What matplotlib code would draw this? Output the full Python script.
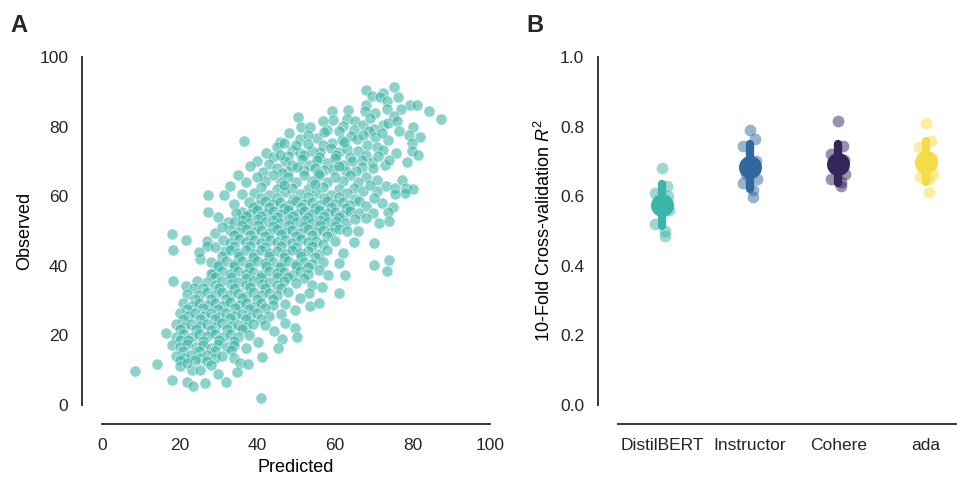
import numpy as np
import matplotlib
matplotlib.use("Agg")
import matplotlib.pyplot as plt

plt.rcParams['font.family'] = ['Liberation Sans', 'DejaVu Sans']
plt.rcParams['mathtext.fontset'] = 'custom'
plt.rcParams['mathtext.rm'] = 'Liberation Sans'
plt.rcParams['mathtext.it'] = 'Liberation Sans:italic'

# panel A: predicted vs observed (approximate)
scatter_points = [
    (68.0, 90.5), (75.3, 91.3), (72.4, 89.7), (69.5, 88.8), (71.6, 88.4), (76.4, 88.4), (73.5, 87.5),
    (68.0, 86.2), (79.4, 86.2), (81.1, 86.2), (73.4, 85.2), (84.3, 84.5), (77.0, 85.0),
    (67.8, 84.6), (59.2, 84.6), (63.5, 84.8), (70.4, 83.8), (50.6, 82.8), (87.4, 82.1), (75.2, 83.1),
    (59.6, 81.9), (63.1, 82.1), (65.2, 81.5), (56.9, 81.5), (51.2, 80.0), (53.6, 80.0), (67.2, 80.5),
    (72.5, 80.5), (73.7, 81.1), (80.2, 80.0), (62.0, 80.2), (76.1, 81.6), (69.0, 82.4),
    (58.0, 79.1), (61.0, 78.8), (70.0, 79.3),
    (82.0, 76.9), (76.6, 78.6), (73.8, 76.1), (68.9, 78.6), (70.4, 76.9), (65.0, 79.0), (55.3, 76.6),
    (59.2, 75.2), (61.8, 76.1), (64.1, 77.2), (65.6, 76.3), (51.0, 76.3), (45.9, 75.7), (36.6, 76.0),
    (48.2, 78.1), (57.1, 78.4), (53.0, 77.5), (67.3, 77.6), (72.1, 78.3), (79.0, 77.6),
    (68.4, 74.7), (70.8, 74.2), (72.5, 73.3), (75.9, 72.3), (79.8, 75.2), (79.8, 72.9), (57.0, 74.7),
    (59.1, 73.9), (48.9, 73.3), (51.1, 72.4), (54.0, 73.1), (56.2, 72.6), (61.0, 72.7), (63.2, 73.6),
    (66.0, 73.0), (45.1, 74.1), (42.2, 72.5), (44.0, 71.4), (62.3, 75.5), (53.2, 75.1), (47.0, 75.4),
    (50.0, 74.6),
    (48.0, 71.5), (52.1, 71.7), (56.0, 71.3), (60.2, 71.8), (64.0, 71.4), (68.1, 71.9),
    (81.5, 71.8), (78.5, 69.9), (72.9, 69.0), (69.5, 69.9), (69.9, 68.0), (66.9, 70.4), (64.5, 70.0),
    (67.0, 68.5), (47.1, 70.0), (49.0, 69.1), (51.5, 70.6), (53.5, 69.0), (55.5, 70.5), (58.0, 69.6),
    (60.1, 71.0), (62.0, 69.1), (40.0, 70.2), (38.1, 68.6), (43.0, 69.2), (45.2, 68.1), (57.1, 67.5),
    (59.5, 67.8), (63.0, 67.2), (52.1, 67.6), (48.0, 67.1), (71.1, 71.6), (74.0, 70.4), (50.2, 68.3),
    (54.8, 68.2), (61.2, 68.6), (46.0, 71.8),
    (46.5, 66.8), (55.6, 66.8), (65.5, 67.2), (41.5, 67.0),
    (70.8, 64.7), (73.2, 62.9), (75.5, 62.3), (77.2, 64.7), (78.4, 62.3), (80.2, 62.0), (78.1, 60.8),
    (75.5, 60.6), (68.0, 65.5), (66.1, 64.1), (64.0, 66.0), (62.2, 64.5), (60.0, 65.6), (58.1, 64.0),
    (56.0, 66.1), (54.2, 64.4), (52.0, 66.0), (50.1, 64.0), (48.0, 65.5), (46.2, 64.1), (44.0, 66.0),
    (42.1, 64.5), (40.0, 65.6), (37.2, 64.0), (35.0, 66.1), (33.1, 63.0), (65.0, 62.5), (61.1, 62.1),
    (57.0, 62.6), (53.1, 62.0), (49.0, 62.5), (45.1, 62.1), (41.0, 62.6), (67.2, 61.4), (71.0, 61.5),
    (63.1, 61.0), (59.0, 60.4), (55.1, 61.0), (51.0, 60.5), (47.1, 61.1), (43.0, 60.4), (39.1, 61.0),
    (36.2, 60.5), (69.0, 63.3), (55.0, 63.6), (47.0, 63.3),
    (27.4, 60.3), (31.5, 60.3), (34.1, 57.9), (27.4, 55.4), (30.0, 54.1), (32.6, 52.7), (29.1, 49.5),
    (25.3, 42.0), (28.7, 37.8), (24.4, 35.7), (31.7, 44.3),
    (41.0, 59.5), (45.0, 59.6), (49.1, 59.3), (53.0, 59.7), (57.2, 59.4), (61.0, 59.8), (65.1, 59.3),
    (38.0, 58.3), (40.1, 57.6), (42.0, 58.6), (44.1, 57.8), (46.0, 58.4), (48.2, 57.5), (50.0, 58.7),
    (52.1, 57.7), (54.0, 58.4), (56.2, 57.6), (58.0, 58.6), (60.1, 57.8), (62.2, 58.3), (64.0, 57.4),
    (66.3, 58.5), (68.0, 57.2), (72.1, 58.1), (75.0, 57.0), (70.0, 59.5),
    (39.0, 56.8), (43.1, 56.9), (47.0, 56.6), (51.2, 57.0), (55.0, 56.7), (59.1, 56.9), (63.0, 56.5),
    (36.0, 55.6), (38.1, 54.9), (40.0, 56.0), (42.2, 55.1), (44.0, 55.8), (46.1, 54.8), (48.0, 55.9),
    (50.2, 55.0), (52.0, 55.7), (54.1, 54.9), (56.0, 56.0), (58.2, 55.1), (60.0, 55.6), (62.1, 54.7),
    (64.0, 55.8), (66.2, 55.3), (69.9, 55.1), (73.8, 55.5), (34.5, 55.3),
    (37.0, 54.2), (41.1, 54.3), (45.0, 54.0), (49.2, 54.4), (53.0, 54.1), (57.1, 54.3), (61.0, 54.0),
    (34.0, 52.6), (36.1, 53.3), (38.0, 52.4), (40.2, 53.4), (42.0, 52.5), (44.1, 53.2), (46.0, 52.3),
    (48.1, 53.4), (50.0, 52.6), (52.2, 53.1), (54.0, 52.4), (56.1, 53.3), (58.0, 52.5), (60.2, 53.0),
    (63.0, 52.2), (65.1, 53.5), (71.5, 52.4), (74.0, 52.9), (68.0, 53.8),
    (36.0, 51.6), (40.1, 51.7), (44.0, 51.5), (48.2, 51.8), (52.0, 51.5), (56.1, 51.7), (60.0, 51.4),
    (33.0, 50.3), (35.1, 49.6), (37.0, 50.5), (39.2, 49.7), (41.0, 50.4), (43.1, 49.5), (45.0, 50.6),
    (47.2, 49.8), (49.0, 50.3), (51.1, 49.4), (53.0, 50.5), (55.2, 49.7), (57.0, 50.2), (59.1, 49.6),
    (61.0, 50.7), (63.2, 49.9), (66.0, 50.1), (31.0, 51.2),
    (34.0, 48.8), (38.1, 48.9), (42.0, 48.6), (46.2, 49.0), (50.0, 48.7), (54.1, 48.9), (58.0, 48.6),
    (21.6, 47.4), (27.0, 47.2), (31.1, 47.5), (33.0, 46.6), (35.2, 47.6), (37.0, 46.8), (39.1, 47.3),
    (41.0, 46.5), (43.2, 47.5), (45.0, 46.7), (47.1, 47.4), (49.0, 46.5), (51.2, 47.6), (53.0, 46.8),
    (55.1, 47.2), (57.0, 46.4), (60.0, 47.1), (65.0, 46.9), (70.1, 46.6), (18.0, 49.0), (18.3, 44.6),
    (34.0, 45.6), (38.2, 45.7), (42.0, 45.5), (46.1, 45.8), (50.0, 45.5), (54.2, 45.7), (27.0, 45.6),
    (25.0, 44.0), (33.0, 44.5), (35.1, 43.6), (37.0, 44.4), (39.2, 43.5), (41.0, 44.6), (43.1, 43.7),
    (45.0, 44.3), (47.2, 43.4), (49.0, 44.5), (51.1, 43.6), (53.0, 44.2), (56.0, 43.5), (58.1, 44.4),
    (62.0, 43.8), (29.0, 45.3),
    (31.0, 42.7), (35.2, 42.8), (39.0, 42.6), (43.1, 42.9), (47.0, 42.6), (51.2, 42.8), (55.0, 42.5),
    (28.0, 41.2), (30.1, 40.5), (32.0, 41.4), (34.1, 40.6), (36.0, 41.3), (38.2, 40.4), (40.0, 41.5),
    (42.1, 40.7), (44.0, 41.2), (46.2, 40.3), (48.0, 41.4), (50.1, 40.6), (52.0, 41.1), (54.2, 40.4),
    (57.0, 41.0), (61.0, 40.8), (74.0, 41.7), (70.1, 40.2),
    (30.0, 39.8), (34.1, 39.9), (38.0, 39.6), (42.2, 39.9), (46.0, 39.7), (50.1, 39.9), (53.0, 39.6),
    (31.0, 38.4), (33.1, 37.6), (35.0, 38.5), (37.2, 37.7), (39.0, 38.3), (41.1, 37.5), (43.0, 38.6),
    (45.2, 37.8), (47.0, 38.2), (49.1, 37.4), (51.0, 38.5), (53.2, 37.6), (56.0, 38.8), (58.3, 37.4),
    (62.6, 37.4), (73.5, 38.5), (28.0, 37.6),
    (29.0, 36.8), (33.2, 36.9), (37.0, 36.6), (41.1, 36.9), (45.0, 36.7), (48.0, 36.9), (52.0, 36.5),
    (18.2, 35.7), (21.6, 34.2), (23.7, 33.5), (27.0, 35.3), (29.1, 34.6), (31.0, 35.5), (33.2, 34.7),
    (35.0, 35.4), (37.1, 34.5), (39.0, 35.6), (41.2, 34.8), (43.0, 35.3), (45.1, 34.4), (47.0, 35.5),
    (50.0, 35.0), (54.0, 34.6), (56.6, 33.8),
    (26.0, 33.6), (30.1, 33.7), (34.0, 33.5), (38.2, 33.8), (42.0, 33.5), (46.1, 33.7),
    (22.0, 32.0), (25.1, 31.6), (27.0, 32.4), (29.2, 31.5), (31.0, 32.5), (33.1, 31.7), (35.0, 32.3),
    (37.2, 31.4), (39.0, 32.5), (41.1, 31.6), (43.0, 32.2), (45.2, 31.5), (48.0, 32.4), (53.4, 32.1),
    (61.2, 32.3), (51.0, 30.8),
    (24.0, 30.5), (28.1, 30.6), (32.0, 30.4), (36.2, 30.7), (40.0, 30.4), (44.1, 30.6),
    (21.0, 29.2), (23.1, 28.5), (25.0, 29.4), (27.2, 28.6), (29.0, 29.3), (31.1, 28.4), (33.0, 29.5),
    (35.2, 28.7), (37.0, 29.2), (39.1, 28.3), (41.0, 29.4), (44.0, 28.6), (47.1, 29.1), (53.6, 28.4),
    (55.8, 29.4), (49.7, 27.3),
    (22.0, 27.7), (26.1, 27.8), (30.0, 27.6), (34.2, 27.9), (38.0, 27.6), (42.1, 27.8),
    (20.0, 26.3), (22.1, 25.6), (24.0, 26.5), (26.2, 25.7), (28.0, 26.3), (30.1, 25.4), (32.0, 26.5),
    (34.2, 25.6), (36.0, 26.2), (38.1, 25.3), (40.0, 26.4), (43.0, 25.7), (46.1, 26.2),
    (21.0, 24.7), (25.2, 24.8), (29.0, 24.6), (33.1, 24.9), (37.0, 24.6), (41.0, 24.8),
    (19.0, 23.2), (21.1, 22.5), (23.0, 23.4), (25.2, 22.6), (27.0, 23.3), (29.1, 22.4), (31.0, 23.5),
    (33.2, 22.7), (35.0, 23.1), (37.1, 22.3), (39.0, 23.4), (42.0, 23.0), (47.2, 23.5), (44.4, 21.3),
    (49.7, 22.0),
    (20.0, 21.8), (24.1, 21.9), (28.0, 21.6), (32.2, 21.9), (36.0, 21.7),
    (16.5, 20.8), (19.1, 19.6), (21.0, 20.4), (23.2, 19.5), (25.0, 20.5), (27.1, 19.7), (29.0, 20.3),
    (31.2, 19.4), (33.0, 20.5), (35.1, 19.6), (38.0, 20.2), (40.3, 18.2), (46.3, 18.9), (50.2, 19.6),
    (20.0, 18.6), (22.1, 18.7), (26.0, 18.5), (30.2, 18.8), (34.0, 18.5),
    (18.0, 17.3), (20.1, 16.6), (22.0, 17.5), (24.2, 16.7), (26.0, 17.2), (28.1, 16.4), (30.0, 17.5),
    (32.2, 16.8), (34.0, 17.1), (37.0, 16.5), (45.4, 16.5),
    (21.0, 15.5), (25.1, 15.6), (29.0, 15.4), (33.2, 15.7),
    (19.0, 14.2), (21.1, 13.5), (23.0, 14.4), (25.2, 13.6), (27.0, 14.3), (29.1, 13.5), (31.0, 14.1),
    (34.0, 13.6), (41.2, 13.9), (14.3, 11.7), (35.6, 12.0), (37.7, 11.8),
    (20.0, 12.8), (24.0, 12.9), (27.0, 12.6),
    (8.5, 9.8), (20.0, 11.2), (23.1, 10.0), (25.3, 10.0), (22.0, 12.0), (28.0, 11.5), (34.9, 9.6),
    (18.0, 7.2), (21.8, 6.7), (23.5, 5.5), (26.5, 6.2), (32.0, 6.7), (40.9, 1.9), (30.0, 9.0),
]
predicted = [p[0] for p in scatter_points]
observed = [p[1] for p in scatter_points]

# panel B: 10-fold cross-validation R^2 per embedding model
models = ['DistilBERT', 'Instructor', 'Cohere', 'ada']
r2_distilbert = [0.68, 0.63, 0.61, 0.60, 0.59, 0.57, 0.56, 0.52, 0.50, 0.485]
r2_instructor = [0.79, 0.765, 0.745, 0.70, 0.68, 0.665, 0.648, 0.637, 0.618, 0.598]
r2_cohere = [0.815, 0.745, 0.72, 0.705, 0.69, 0.68, 0.665, 0.65, 0.64, 0.628]
r2_ada = [0.81, 0.76, 0.74, 0.71, 0.70, 0.685, 0.665, 0.655, 0.65, 0.612]
model_colors = ['#3cb5a8', '#31689e', '#35265a', '#f5dc46']

fig = plt.figure(figsize=(9.57, 4.8), dpi=100)
ax_a = fig.add_axes([0.1066, 0.15625, 0.4054, 0.725])
ax_b = fig.add_axes([0.6458, 0.15625, 0.3542, 0.725])

ax_a.scatter(predicted, observed, s=64, color='#3cb5a8', alpha=0.6,
             edgecolor='white', linewidth=0.6, zorder=2)
ax_a.set_xlim(0, 100)
ax_a.set_ylim(0, 100)
ax_a.set_xticks([0, 20, 40, 60, 80, 100])
ax_a.set_yticks([0, 20, 40, 60, 80, 100])
ax_a.set_xlabel('Predicted', fontsize=13)
ax_a.set_ylabel('Observed', fontsize=13)

all_r2 = [r2_distilbert, r2_instructor, r2_cohere, r2_ada]
# small deterministic horizontal spread for the fold points
jitter = 0.085 * np.sin(np.arange(10) * 2.4)
for i, (vals, c) in enumerate(zip(all_r2, model_colors)):
    vals = np.array(vals)
    ax_b.scatter(i + jitter, vals, s=72, color=c, alpha=0.5, linewidth=0, zorder=2)
    m = vals.mean()
    sd = vals.std(ddof=1)
    ax_b.plot([i, i], [m - sd, m + sd], color=c, lw=6, solid_capstyle='round', zorder=3)
    ax_b.plot(i, m, 'o', color=c, ms=15.5, zorder=4)

ax_b.set_xlim(-0.5, 3.35)
ax_b.set_ylim(0, 1.0)
ax_b.set_xticks(range(len(models)))
ax_b.set_xticklabels(models)
ax_b.set_yticks([0.0, 0.2, 0.4, 0.6, 0.8, 1.0])
ax_b.set_yticklabels(['0.0', '0.2', '0.4', '0.6', '0.8', '1.0'])
ax_b.set_ylabel('10-Fold Cross-validation $R^2$', fontsize=13)

for ax in (ax_a, ax_b):
    for side in ('top', 'right'):
        ax.spines[side].set_visible(False)
    ax.spines['left'].set_position(('outward', 14.4))
    ax.spines['bottom'].set_position(('outward', 14))
    ax.spines['left'].set_color('#262626')
    ax.spines['bottom'].set_color('#262626')
    ax.spines['left'].set_linewidth(1.3)
    ax.spines['bottom'].set_linewidth(1.3)
    ax.tick_params(length=0, labelsize=12.5, colors='#262626', pad=10)

fig.text(10 / 957, 1 - 25 / 480, 'A', fontsize=17, fontweight='bold', va='center', color='#262626')
fig.text(526 / 957, 1 - 25 / 480, 'B', fontsize=17, fontweight='bold', va='center', color='#262626')

fig.savefig('out.png', dpi=100)
